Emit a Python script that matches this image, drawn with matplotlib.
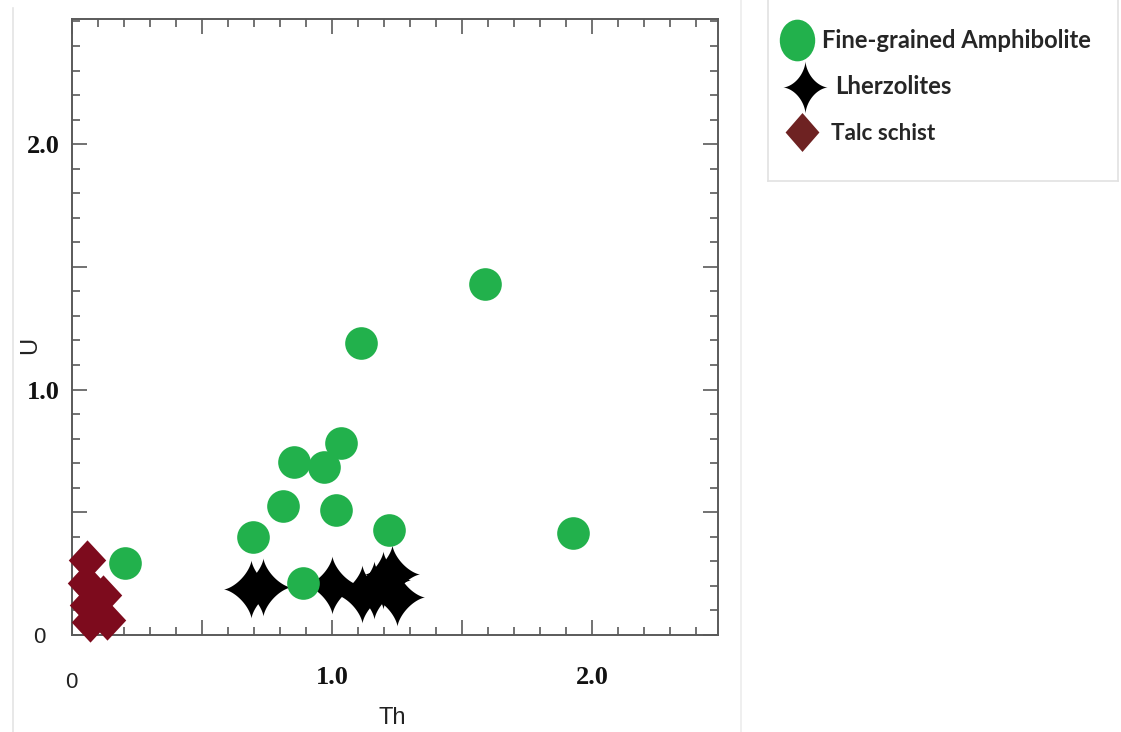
import numpy as np
import matplotlib
matplotlib.use("Agg")
import matplotlib.pyplot as plt
from matplotlib.path import Path
from matplotlib.ticker import MultipleLocator
from matplotlib.lines import Line2D
import matplotlib.transforms as mtransforms

# ---- data -----------------------------------------------------------------
amph_th = [0.204, 0.696, 0.812, 0.854, 0.969, 1.035, 1.015, 1.112, 1.219, 1.588, 1.927, 0.888]
amph_u = [0.294, 0.400, 0.527, 0.706, 0.686, 0.784, 0.510, 1.188, 0.429, 1.429, 0.416, 0.212]

lherz_th = [0.690, 0.735, 1.000, 1.115, 1.160, 1.195, 1.230, 1.250]
lherz_u = [0.188, 0.196, 0.204, 0.167, 0.184, 0.224, 0.249, 0.155]

talc_th = [0.058, 0.054, 0.120, 0.062, 0.135, 0.069]
talc_u = [0.306, 0.212, 0.163, 0.122, 0.061, 0.053]

series_names = ["Fine-grained Amphibolite", "Lherzolites", "Talc schist"]

x_tick_pos = [0.0, 0.5, 1.0, 1.5, 2.0]
x_tick_txt = ["0", "", "1.0", "", "2.0"]
y_tick_pos = [0.0, 0.5, 1.0, 1.5, 2.0]
y_tick_txt = ["0", "", "1.0", "", "2.0"]

x_label = "Th"
y_label = "U"

# ---- styling --------------------------------------------------------------
GREEN = "#22b14c"
MAROON = "#7d0b1d"
LEG_DIAMOND = "#6e2222"
SPINE = "#5a5a5a"


def astroid(sx, sy, p=3.0, n=240):
    t = np.linspace(0, 2 * np.pi, n, endpoint=False)
    c, s = np.cos(t), np.sin(t)
    x = np.sign(c) * np.abs(c) ** p * sx
    y = np.sign(s) * np.abs(s) ** p * sy
    v = np.column_stack([x, y])
    v = np.vstack([v, v[:1]])
    codes = [Path.MOVETO] + [Path.LINETO] * (len(v) - 2) + [Path.CLOSEPOLY]
    return Path(v, codes)


def diamond(sx, sy):
    v = [(0, sy), (sx, 0), (0, -sy), (-sx, 0), (0, sy)]
    return Path(v, [Path.MOVETO, Path.LINETO, Path.LINETO, Path.LINETO, Path.CLOSEPOLY])


star_plot = astroid(0.95, 1.0, p=2.9)
star_leg = astroid(0.85, 1.0, p=3.2)
diam_plot = diamond(0.93, 1.0)
diam_leg = diamond(0.87, 1.0)

W, H = 1121, 732
fig = plt.figure(figsize=(W / 100, H / 100), dpi=100)
fig.patch.set_facecolor("white")

# faint page rules
fig.add_artist(Line2D([13 / W, 13 / W], [0, 1 - 8 / H], transform=fig.transFigure,
                      color="#e4e4e4", lw=1.2))
fig.add_artist(Line2D([741 / W, 741 / W], [0, 1], transform=fig.transFigure,
                      color="#ececec", lw=1.2))

ax = fig.add_axes([72 / W, (H - 635) / H, (718 - 72) / W, (635 - 19) / H])
ax.set_xlim(0, 2.485)
ax.set_ylim(0, 2.51)

ax.plot(lherz_th, lherz_u, linestyle="none", marker=star_plot, markersize=42,
        color="black", markeredgewidth=0, zorder=3)
ax.plot(amph_th, amph_u, linestyle="none", marker="o", markersize=23.5,
        color=GREEN, markeredgewidth=0, zorder=4)
ax.plot(talc_th, talc_u, linestyle="none", marker=diam_plot, markersize=29,
        color=MAROON, markeredgewidth=0, zorder=5, clip_on=False)

for s in ax.spines.values():
    s.set_color(SPINE)
    s.set_linewidth(1.4)

ax.xaxis.set_minor_locator(MultipleLocator(0.1))
ax.yaxis.set_minor_locator(MultipleLocator(0.1))
ax.tick_params(which="both", direction="in", top=True, right=True, color=SPINE, width=1.2)
ax.tick_params(which="major", length=11)
ax.tick_params(which="minor", length=6)
ax.tick_params(axis="x", which="major", pad=22)
ax.tick_params(axis="y", which="major", pad=9)

ax.set_xticks(x_tick_pos)
xt = ax.set_xticklabels(x_tick_txt)
ax.set_yticks(y_tick_pos)
yt = ax.set_yticklabels(y_tick_txt)

for lab in list(xt) + list(yt):
    if lab.get_text() == "0":
        lab.set_fontfamily("Liberation Sans")
        lab.set_fontsize(16)
        lab.set_color("#222222")
    else:
        lab.set_fontfamily("Liberation Serif")
        lab.set_fontweight("bold")
        lab.set_fontsize(19)
        lab.set_color("#111111")

# the zero labels sit a little apart from the others
for lab in xt:
    if lab.get_text() == "0":
        lab.set_transform(lab.get_transform() +
                          mtransforms.ScaledTranslation(-1 / 100, -6 / 100, fig.dpi_scale_trans))
for lab in yt:
    if lab.get_text() == "0":
        lab.set_transform(lab.get_transform() +
                          mtransforms.ScaledTranslation(-14 / 100, 0, fig.dpi_scale_trans))

ax.set_xlabel(x_label, fontfamily="Liberation Sans", fontsize=17, color="#222222")
ax.xaxis.set_label_coords((392 - 72) / (718 - 72), -(707 - 635) / (635 - 19))
ax.set_ylabel(y_label, fontfamily="Liberation Sans", fontsize=17, color="#222222")
ax.yaxis.set_label_coords(-(72 - 41) / (718 - 72), (635 - 345) / (635 - 19))

# ---- legend panel (pixel coordinates) -------------------------------------
lx0, lx1, ly0, ly1 = 768, 1118, 0, 181
lax = fig.add_axes([lx0 / W, 1 - ly1 / H, (lx1 - lx0) / W, (ly1 - ly0) / H])
lax.set_xlim(lx0, lx1)
lax.set_ylim(ly1, ly0)
lax.set_xticks([])
lax.set_yticks([])
for side, s in lax.spines.items():
    s.set_color("#e2e2e2")
    s.set_linewidth(1.2)
lax.spines["top"].set_visible(False)

oval = Path.unit_circle().transformed(mtransforms.Affine2D().scale(0.85, 1.0))
lax.plot([797], [40], linestyle="none", marker=oval, markersize=30, color=GREEN,
         markeredgewidth=0)
lax.plot([805], [87], linestyle="none", marker=star_leg, markersize=38, color="black",
         markeredgewidth=0)
lax.plot([802], [132], linestyle="none", marker=diam_leg, markersize=28, color=LEG_DIAMOND,
         markeredgewidth=0)

leg_specs = [
    (series_names[0], 822, 1093, 41, "bold"),
    (series_names[1], 835, 952, 87, "bold"),
    (series_names[2], 831, 936, 134, "bold"),
]
fig.canvas.draw()
renderer = fig.canvas.get_renderer()
for txt, x0, x1, yc, wt in leg_specs:
    t = lax.text(x0, yc, txt, fontfamily="Lato", fontweight=wt, fontsize=14,
                 color="#262626", ha="left", va="center")
    w = t.get_window_extent(renderer).width
    t.set_fontsize(14 * (x1 - x0) / w)

fig.savefig("out.png", dpi=100, facecolor="white")
